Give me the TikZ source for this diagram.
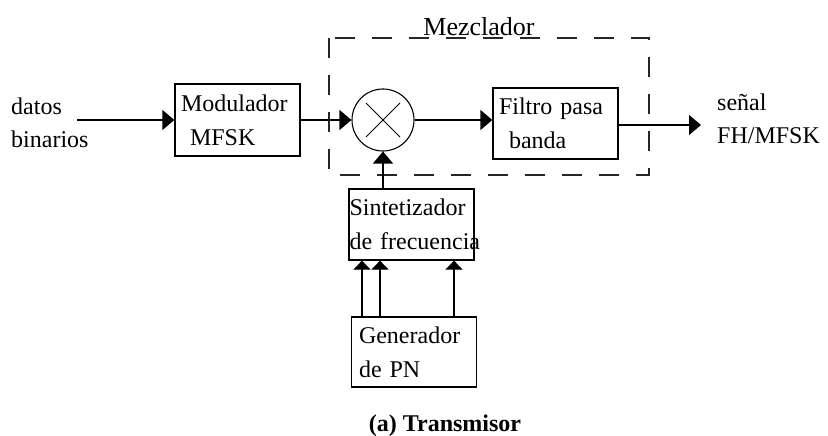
\documentclass[tikz,border=0pt]{standalone}
\usepackage{fontspec}
\setmainfont{Liberation Serif}
\usetikzlibrary{arrows.meta,calc}
\begin{document}
\begin{tikzpicture}[x=1pt,y=-1pt,
  txt/.style={font=\fontsize{24}{33}\selectfont, inner sep=0pt},
  blk/.style={draw, line width=1.3pt, inner sep=0pt, align=left,
    font=\fontsize{24}{33}\selectfont, minimum width=125pt, minimum height=71pt},
  arr/.style={line width=1.3pt, -{Triangle[length=12pt,width=20pt]}},
  arrs/.style={line width=1.3pt, -{Triangle[length=9pt,width=17pt]}}]
\useasboundingbox (0,0) rectangle (828,436);
% dashed mixer frame
\draw[line width=1.4pt, dash pattern=on 20pt off 17pt, black!85] (329,38) rectangle (649,175);
\node[txt, font=\fontsize{26}{33}\selectfont] (mezlbl) at (479,27) {Mezclador};
% input text
\node[txt, anchor=west, align=left] (din) at (11,123) {datos\\binarios};
\coordinate (inS) at (77,120);
% blocks
\node[blk, minimum height=72pt, text width=113pt] (mod) at (237.5,120) {\mbox{Modulador}\\[1pt]\hspace*{9pt}MFSK};
\node[draw, circle, line width=1.1pt, minimum size=62pt, inner sep=0pt] (mix) at (383,120) {};
\draw[line width=1pt] ($(mix.center)+(-17,-17)$) -- ($(mix.center)+(17,17)$)
                      ($(mix.center)+(-17,17)$) -- ($(mix.center)+(17,-17)$);
\node[blk, text width=113pt] (fil) at (555.5,123.5) {\mbox{Filtro pasa}\\[1pt]\hspace*{10pt}banda};
\node[blk, text width=124pt] (syn) at (411.5,224.5) {\mbox{Sintetizador}\\[1pt]\mbox{de frecuencia}};
\node[blk, minimum height=70pt, text width=110pt] (gen) at (414,352) {\mbox{Generador}\\[1pt]de PN};
% output text
\node[txt, anchor=west, align=left] (dout) at (717,119) {señal\\FH/MFSK};
\coordinate (outE) at (701,125);
% connectors
\draw[arr] (inS) -- (mod.west |- inS);
\draw[arr] (mod.east |- mix.west) -- (mix.west);
\draw[arr] (mix.east) -- (fil.west |- mix.east);
\draw[arr] (fil.east |- outE) -- (outE);
\draw[arr] (syn.north -| mix.south) -- (mix.south);
\draw[arrs] (362,0 |- gen.north) -- (362,0 |- syn.south);
\draw[arrs] (380,0 |- gen.north) -- (380,0 |- syn.south);
\draw[arrs] (454,0 |- gen.north) -- (454,0 |- syn.south);
% caption
\node[txt, font=\fontsize{24}{28}\selectfont\bfseries] (cap) at (445,426) {(a) Transmisor};
\end{tikzpicture}
\end{document}
